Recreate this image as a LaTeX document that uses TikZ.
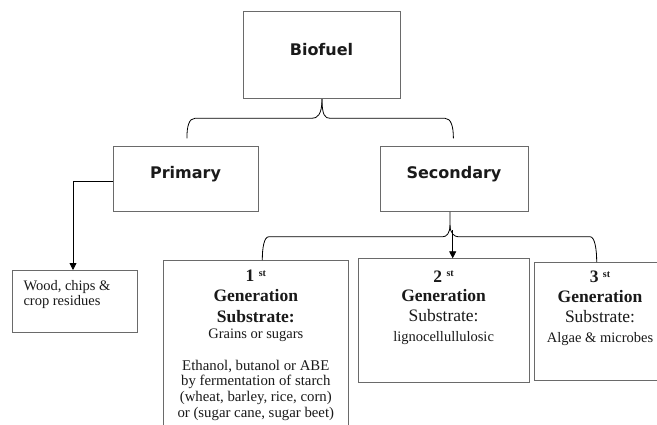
\documentclass[tikz,border=0pt]{standalone}
\usepackage{fontspec}
\setmainfont{Liberation Serif}
\newfontfamily\lblfont{DejaVu Sans}
\usetikzlibrary{arrows.meta}
\definecolor{boxgray}{HTML}{6A6A6A}
\definecolor{txt}{HTML}{1A1A1A}
\begin{document}
\begin{tikzpicture}[x=1pt,y=-1pt,
  box/.style={draw=boxgray, line width=0.9pt, inner sep=0pt, anchor=north west},
  conn/.style={draw=black, line width=0.8pt},
  tip/.style={-{Triangle[length=7pt,width=7pt]}},
  sl/.style={font=\lblfont\bfseries\fontsize{16}{19}\selectfont, text=txt, inner sep=0pt, anchor=base},
  hb/.style={font=\bfseries\fontsize{17.5}{20}\selectfont, text=txt, inner sep=0pt, anchor=base},
  hr/.style={font=\fontsize{17.5}{20}\selectfont, text=txt, inner sep=0pt, anchor=base},
  tx/.style={font=\fontsize{14.5}{17}\selectfont, text=txt, inner sep=0pt, anchor=base},
  tw/.style={font=\fontsize{14.8}{17}\selectfont, text=txt, inner sep=0pt, anchor=base}]
\clip (0,0) rectangle (657,424);
\fill[white] (0,0) rectangle (657,424);
% boxes
\node[box, minimum width=156.3pt, minimum height=87.6pt] (bio) at (243.4,10.7) {};
\node[box, minimum width=144.4pt, minimum height=65.3pt] (prim) at (113.3,145.7) {};
\node[box, minimum width=148.3pt, minimum height=65.3pt] (sec) at (380,145.7) {};
\node[box, minimum width=125pt, minimum height=61.7pt] (wood) at (12,270) {};
\node[box, minimum width=185pt, minimum height=180pt] (b1) at (163.3,260) {};
\node[box, minimum width=170.7pt, minimum height=123.4pt] (b2) at (358.3,258.3) {};
\node[box, minimum width=132pt, minimum height=118pt] (b3) at (534,262) {};
% labels
\node[sl] (biot) at (321.5,55) {Biofuel};
\node[sl] (primt) at (185.5,178) {Primary};
\node[sl] (sect) at (454,178) {Secondary};
\node[tx, anchor=base west] (w1) at (23.3,290) {Wood, chips \&};
\node[tx, anchor=base west] (w2) at (23.3,305.5) {crop residues};
% box 1
\node[hb] (a1) at (255.8,281.7) {1 \raisebox{5.5pt}{\fontsize{10}{12}\selectfont st}};
\node[hb] (a2) at (255.8,301.7) {Generation};
\node[hb] (a3) at (255.8,322.3) {Substrate:};
\node[tx] (a4) at (255.8,338.3) {Grains or sugars};
\node[tw] (a5) at (255.8,370) {Ethanol, butanol or ABE};
\node[tw] (a6) at (255.8,385.7) {by fermentation of starch};
\node[tw] (a7) at (255.8,401.3) {(wheat, barley, rice, corn)};
\node[tw] (a8) at (255.8,417) {or (sugar cane, sugar beet)};
% box 2
\node[hb] (c1) at (443.6,282.3) {2 \raisebox{5.5pt}{\fontsize{10}{12}\selectfont st}};
\node[hb] (c2) at (443.6,301.7) {Generation};
\node[hr] (c3) at (443.6,321.7) {Substrate:};
\node[tx] (c4) at (443.6,341) {lignocellullulosic};
% box 3
\node[hb] (d1) at (600,282.7) {3 \raisebox{5.5pt}{\fontsize{10}{12}\selectfont st}};
\node[hb] (d2) at (600,302) {Generation};
\node[hr] (d3) at (600,322) {Substrate:};
\node[tx] (d4) at (600,342.3) {Algae \& microbes};
% helper coordinates
\coordinate (bl) at (186.9,138.3);
\coordinate (br) at (453.4,138.3);
\coordinate (pw) at (113.3,181.7);
\coordinate (wt) at (73,270);
\coordinate (ss) at (450,0);
\coordinate (k1) at (262.3,0);
\coordinate (k2) at (452.7,0);
\coordinate (k3) at (596.7,0);
% top brace
\draw[conn] (bio.south) .. controls +(0,16) and +(5,0) .. (312,118.3) -- (195,118.3)
  .. controls +(-6,0) and +(0,-12) .. (bl);
\draw[conn] (bio.south) .. controls +(0,16) and +(-5,0) .. (330,118.3) -- (445,118.3)
  .. controls +(6,0) and +(0,-12) .. (br);
% primary -> wood
\draw[conn, tip] (prim.west |- pw) -| (wood.north -| wt);
% secondary brace
\draw[conn] (sec.south -| ss) -- (450,225) .. controls +(0,9) and +(3,0) .. (443,236.7) -- (269,236.7)
  .. controls +(-5,0) and +(0,-12) .. (b1.north -| k1);
\draw[conn] (450,225) .. controls +(0,9) and +(-3,0) .. (458,236.7) -- (590,236.7)
  .. controls +(5,0) and +(0,-12) .. (b3.north -| k3);
\draw[conn, tip] (452.7,230) -- (b2.north -| k2);
\end{tikzpicture}
\end{document}
